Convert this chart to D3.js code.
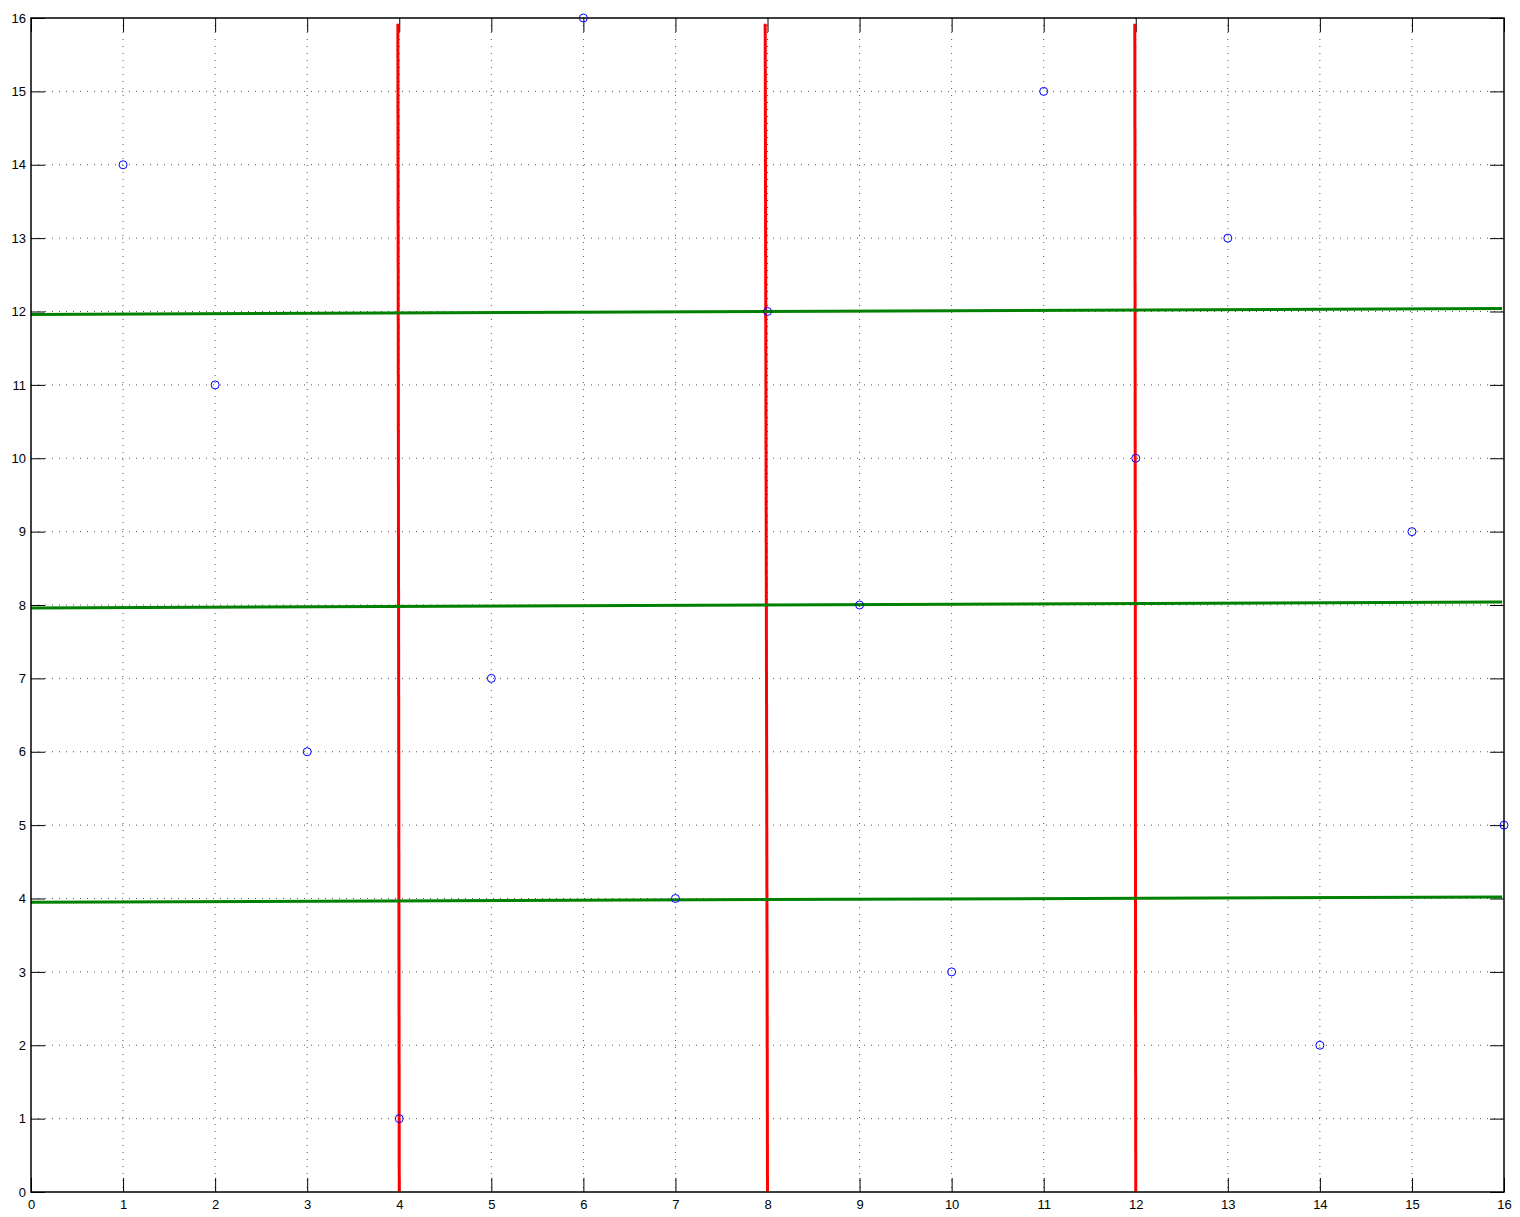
<!DOCTYPE html>
<html>
<head>
<meta charset="utf-8">
<script src="https://cdn.jsdelivr.net/npm/d3@7"></script>
<style>
  html, body { margin: 0; padding: 0; background: #fff; }
  svg { display: block; }
  .tick text { font-family: "Liberation Sans", Helvetica, Arial, sans-serif; font-size: 13px; fill: #000; }
</style>
</head>
<body>
<svg id="chart" width="1520" height="1217"></svg>
<script>
// Scatter points
const pointX = [1, 2, 3, 4, 5, 6, 7, 8, 9, 10, 11, 12, 13, 14, 15, 16];
const pointY = [14, 11, 6, 1, 7, 16, 4, 12, 8, 3, 15, 10, 13, 2, 9, 5];

// Near-vertical red lines: x at the top end and at the bottom end
const redTopX = [3.985, 7.975, 11.99];
const redBottomX = [4.0, 8.0, 12.0];
const redTopY = 15.92;
const redBottomY = 0;

// Near-horizontal green lines: y at the left end and at the right end
const greenLeftY = [11.96, 7.96, 3.95];
const greenRightY = [12.04, 8.04, 4.02];
const greenLeftX = 0;
const greenRightX = 15.98;

// Axis ticks
const xTicks = d3.range(0, 17);
const yTicks = d3.range(0, 17);

const svg = d3.select("#chart");
const plotLeft = 31, plotRight = 1504, plotTop = 18, plotBottom = 1192;

const x = d3.scaleLinear().domain([0, 16]).range([plotLeft, plotRight]);
const y = d3.scaleLinear().domain([0, 16]).range([plotBottom, plotTop]);

// Dotted grid
const grid = svg.append("g").attr("stroke", "#555").attr("stroke-width", 1)
  .attr("stroke-dasharray", "1,6");
grid.selectAll("line.gx").data(xTicks.slice(1, -1)).join("line")
  .attr("class", "gx")
  .attr("x1", d => x(d)).attr("x2", d => x(d))
  .attr("y1", plotTop).attr("y2", plotBottom);
grid.selectAll("line.gy").data(yTicks.slice(1, -1)).join("line")
  .attr("class", "gy")
  .attr("x1", plotLeft).attr("x2", plotRight)
  .attr("y1", d => y(d)).attr("y2", d => y(d));

// Axes with inward ticks on all four sides
const tickLen = 14;
svg.append("g").attr("transform", `translate(0,${plotBottom})`)
  .call(d3.axisBottom(x).tickValues(xTicks).tickFormat(d3.format("d")).tickSizeInner(-tickLen).tickSizeOuter(0).tickPadding(8))
  .call(g => g.select(".domain").remove());
svg.append("g").attr("transform", `translate(0,${plotTop})`)
  .call(d3.axisTop(x).tickValues(xTicks).tickFormat("").tickSizeInner(-tickLen).tickSizeOuter(0))
  .call(g => g.select(".domain").remove());
svg.append("g").attr("transform", `translate(${plotLeft},0)`)
  .call(d3.axisLeft(y).tickValues(yTicks).tickFormat(d3.format("d")).tickSizeInner(-tickLen).tickSizeOuter(0).tickPadding(5))
  .call(g => g.select(".domain").remove());
svg.append("g").attr("transform", `translate(${plotRight},0)`)
  .call(d3.axisRight(y).tickValues(yTicks).tickFormat("").tickSizeInner(-tickLen).tickSizeOuter(0))
  .call(g => g.select(".domain").remove());
svg.selectAll(".tick line").attr("stroke", "#000").attr("stroke-width", 1);

// Red lines
svg.append("g").selectAll("line").data(d3.range(redTopX.length)).join("line")
  .attr("x1", i => x(redTopX[i])).attr("y1", y(redTopY))
  .attr("x2", i => x(redBottomX[i])).attr("y2", y(redBottomY))
  .attr("stroke", "#ff0000").attr("stroke-width", 3);

// Green lines
svg.append("g").selectAll("line").data(d3.range(greenLeftY.length)).join("line")
  .attr("x1", x(greenLeftX)).attr("y1", i => y(greenLeftY[i]))
  .attr("x2", x(greenRightX)).attr("y2", i => y(greenRightY[i]))
  .attr("stroke", "#008000").attr("stroke-width", 3);

// Plot frame
svg.append("rect").attr("x", plotLeft).attr("y", plotTop)
  .attr("width", plotRight - plotLeft).attr("height", plotBottom - plotTop)
  .attr("fill", "none").attr("stroke", "#000").attr("stroke-width", 1.5);

// Points
svg.append("g").selectAll("circle").data(pointX.map((d, i) => [d, pointY[i]])).join("circle")
  .attr("cx", d => x(d[0])).attr("cy", d => y(d[1])).attr("r", 4)
  .attr("fill", "none").attr("stroke", "#0000ff").attr("stroke-width", 1);
</script>
</body>
</html>
